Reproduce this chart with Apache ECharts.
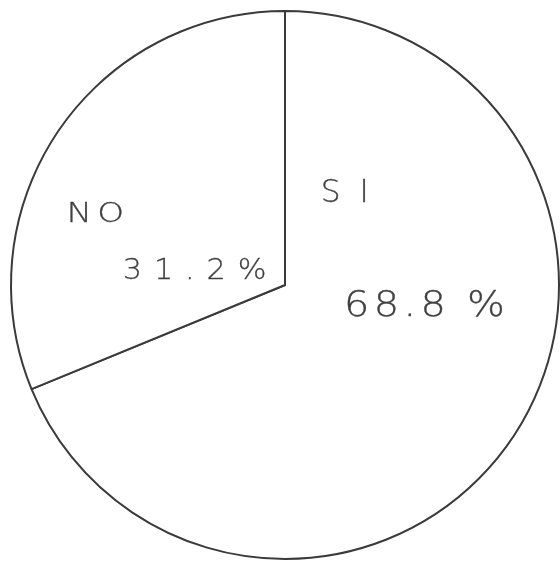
<!DOCTYPE html>
<html>
<head>
<meta charset="utf-8">
<script src="https://cdn.jsdelivr.net/npm/echarts@6/dist/echarts.min.js"></script>
<style>
html,body{margin:0;padding:0;background:#fff;}
#chart{width:560px;height:574px;}
</style>
</head>
<body>
<div id="chart"></div>
<script>
const categories = ['SI', 'NO'];
const values = [68.8, 31.2];

const chart = echarts.init(document.getElementById('chart'));
const fmt = v => v.toFixed(1);

const BASE = 40, FAMILY = 'DejaVu Sans', WEIGHT = 300;
const mctx = document.createElement('canvas').getContext('2d');
mctx.font = WEIGHT + ' ' + BASE + 'px "' + FAMILY + '"';
mctx.textBaseline = 'middle';
mctx.textAlign = 'left';

// lay out a label character by character so its ink fills [x0, y0, x1, y1],
// with glyph aspect k and evenly distributed letter spacing (hand lettering look)
function letterText(s, box, k) {
  const whole = mctx.measureText(s);
  const A = whole.actualBoundingBoxAscent, D = whole.actualBoundingBoxDescent;
  const sy = (box[3] - box[1]) / (A + D);
  const sx = sy * k;
  const chars = s.split('');
  const ms = chars.map(c => mctx.measureText(c));
  const n = chars.length;
  let adv = 0;
  for (let i = 0; i < n - 1; i++) adv += ms[i].width * sx;
  const L0 = ms[0].actualBoundingBoxLeft * sx, Rn = ms[n - 1].actualBoundingBoxRight * sx;
  const gap = n > 1 ? ((box[2] - box[0]) - (adv + L0 + Rn)) / (n - 1) : 0;
  const y = box[1] + A * sy;
  let x = box[0] + L0;
  const els = [];
  chars.forEach((c, i) => {
    if (c !== ' ') {
      els.push({
        type: 'text', z: 100, silent: true, x: x, y: y, scaleX: sx, scaleY: sy,
        style: { text: c, x: 0, y: 0, fontFamily: FAMILY, fontWeight: WEIGHT, fontSize: BASE,
                 fill: '#3f3f3f', stroke: '#3f3f3f', lineWidth: 0.4,
                 align: 'left', verticalAlign: 'middle' }
      });
    }
    x += ms[i].width * sx + gap;
  });
  return els;
}

chart.setOption({
  backgroundColor: '#ffffff',
  animation: false,
  series: [{
    type: 'pie',
    z: 1,
    center: [285, 285],
    radius: 274,
    startAngle: 90,
    clockwise: true,
    label: { show: false },
    labelLine: { show: false },
    itemStyle: { color: '#ffffff', borderColor: '#3a3a3a', borderWidth: 2 },
    emphasis: { disabled: true },
    data: categories.map((c, i) => ({ name: c, value: values[i] }))
  }],
  graphic: { elements: [].concat(
    letterText(categories[1], [70, 202, 122, 223], 1.3),
    letterText(fmt(values[1]) + '%', [125, 258, 265, 280], 1.1),
    letterText(categories[0], [323, 178, 365, 203], 1.0),
    letterText(fmt(values[0]) + ' %', [347, 288, 503, 317], 1.1)
  ) }
});
</script>
</body>
</html>
